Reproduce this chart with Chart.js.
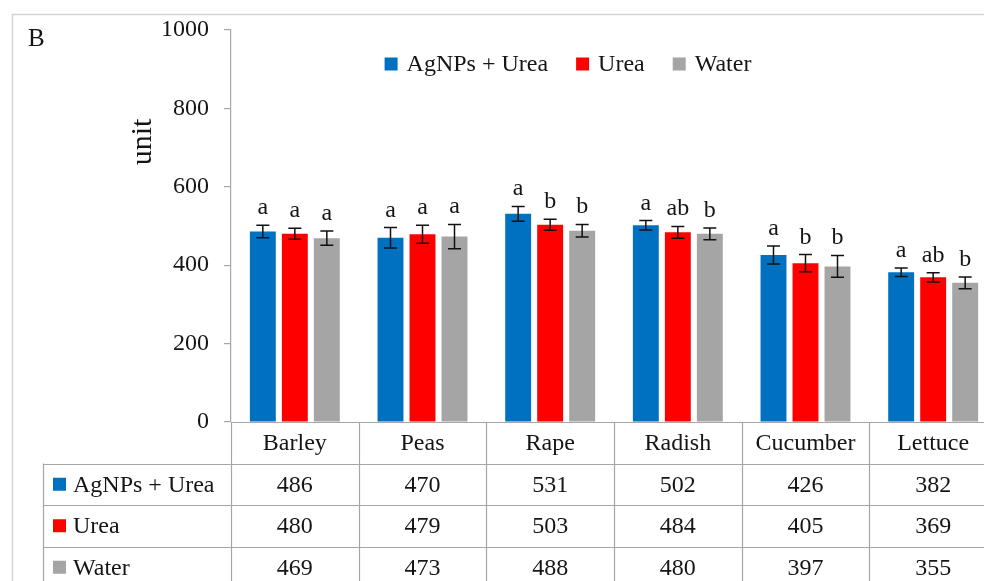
<!DOCTYPE html>
<html>
<head>
<meta charset="utf-8">
<script src="https://cdn.jsdelivr.net/npm/chart.js@4/dist/chart.umd.min.js"></script>
<style>
  html, body { margin: 0; padding: 0; background: #fff; overflow: hidden; }
  #wrap { position: absolute; left: 0; top: 0; width: 1020px; height: 600px; }
</style>
</head>
<body>
<div id="wrap"><canvas id="c" width="1020" height="600"></canvas></div>
<script>
// Crops and treatments
const categories = ['Barley', 'Peas', 'Rape', 'Radish', 'Cucumber', 'Lettuce'];
const seriesNames = ['AgNPs + Urea', 'Urea', 'Water'];

// Mean values per crop
const agnpsUrea = [486, 470, 531, 502, 426, 382];
const urea      = [480, 479, 503, 484, 405, 369];
const water     = [469, 473, 488, 480, 397, 355];

// Standard deviations (error bars)
const agnpsUreaErr = [16, 26, 19, 12, 23, 11];
const ureaErr      = [14, 23, 14, 15, 22, 12];
const waterErr     = [18, 31, 16, 15, 28, 15];

// Significance letters
const agnpsUreaSig = ['a', 'a', 'a', 'a', 'a', 'a'];
const ureaSig      = ['a', 'a', 'b', 'ab', 'b', 'ab'];
const waterSig     = ['a', 'a', 'b', 'b', 'b', 'b'];

// Y axis ticks
const yTicks = [0, 200, 400, 600, 800, 1000];

const colors = ['#0070C0', '#FF0000', '#A5A5A5'];
const values = [agnpsUrea, urea, water];
const errors = [agnpsUreaErr, ureaErr, waterErr];
const letters = [agnpsUreaSig, ureaSig, waterSig];

const FONT = '"Liberation Serif", "DejaVu Serif", serif';
const TEXT = '#151515';
const LINE = '#a6a6a6';
const SIZE = 24;

const extras = {
  id: 'extras',
  beforeDraw(chart) {
    const ctx = chart.ctx;
    ctx.save();
    // outer frame
    ctx.strokeStyle = '#d4d4d4';
    ctx.lineWidth = 1.5;
    ctx.strokeRect(12.5, 14.5, 2000, 2000);
    // panel letter
    ctx.fillStyle = TEXT;
    ctx.font = '25px ' + FONT;
    ctx.textAlign = 'left';
    ctx.textBaseline = 'alphabetic';
    ctx.fillText('B', 28, 46);
    // y axis title
    ctx.translate(143, 142);
    ctx.rotate(-Math.PI / 2);
    ctx.font = '30px ' + FONT;
    ctx.textAlign = 'center';
    ctx.textBaseline = 'middle';
    ctx.fillText('unit', 0, 0);
    ctx.restore();
  },
  afterDatasetsDraw(chart) {
    const ctx = chart.ctx;
    const ys = chart.scales.y;
    const xs = chart.scales.x;
    ctx.save();

    // error bars and letters
    values.forEach((vals, d) => {
      const meta = chart.getDatasetMeta(d);
      meta.data.forEach((bar, i) => {
        const top = ys.getPixelForValue(vals[i] + errors[d][i]);
        const bot = ys.getPixelForValue(vals[i] - errors[d][i]);
        const x = bar.x;
        ctx.strokeStyle = '#111';
        ctx.lineWidth = 1.5;
        ctx.beginPath();
        ctx.moveTo(x, top); ctx.lineTo(x, bot);
        ctx.moveTo(x - 6.5, top); ctx.lineTo(x + 6.5, top);
        ctx.moveTo(x - 6.5, bot); ctx.lineTo(x + 6.5, bot);
        ctx.stroke();
        ctx.fillStyle = TEXT;
        ctx.font = SIZE + 'px ' + FONT;
        ctx.textAlign = 'center';
        ctx.textBaseline = 'alphabetic';
        ctx.fillText(letters[d][i], x, top - 11);
      });
    });

    // data table under the axis
    const base = ys.getPixelForValue(0);
    const colW = (xs.right - xs.left) / categories.length;
    const rowH = 41.5;
    const tableLeft = 43;
    const far = chart.width;
    ctx.strokeStyle = LINE;
    ctx.lineWidth = 1.2;
    ctx.beginPath();
    ctx.moveTo(xs.left, base + 0.5); ctx.lineTo(far, base + 0.5);
    for (let r = 1; r <= 4; r++) {
      const y = Math.round(base + r * rowH) + 0.5;
      ctx.moveTo(tableLeft, y); ctx.lineTo(far, y);
    }
    ctx.moveTo(tableLeft + 0.5, base + rowH); ctx.lineTo(tableLeft + 0.5, chart.height);
    for (let i = 0; i <= categories.length; i++) {
      const x = Math.round(xs.left + i * colW) + 0.5;
      ctx.moveTo(x, base); ctx.lineTo(x, chart.height);
    }
    ctx.stroke();

    ctx.fillStyle = TEXT;
    ctx.font = SIZE + 'px ' + FONT;
    ctx.textBaseline = 'middle';
    ctx.textAlign = 'center';
    categories.forEach((c, i) => {
      const cx = xs.getPixelForValue(i);
      ctx.fillText(c, cx, base + rowH / 2 + 1);
      values.forEach((vals, d) => {
        ctx.fillText(String(vals[i]), cx, base + rowH * (d + 1.5) + 1);
      });
    });
    seriesNames.forEach((name, d) => {
      const cy = base + rowH * (d + 1.5);
      ctx.fillStyle = colors[d];
      ctx.fillRect(53, cy - 6.5, 13, 13);
      ctx.fillStyle = TEXT;
      ctx.textAlign = 'left';
      ctx.fillText(name, 73, cy + 1);
    });

    // legend along the top
    ctx.font = SIZE + 'px ' + FONT;
    const sq = 13, gapText = 9, gapItem = 28;
    const widths = seriesNames.map(n => sq + gapText + ctx.measureText(n).width);
    const total = widths.reduce((a, b) => a + b, 0) + gapItem * (widths.length - 1);
    let lx = 568 - total / 2;
    const ly = 64;
    seriesNames.forEach((name, d) => {
      ctx.fillStyle = colors[d];
      ctx.fillRect(lx, ly - 6.5, sq, sq);
      ctx.fillStyle = TEXT;
      ctx.textAlign = 'left';
      ctx.textBaseline = 'middle';
      ctx.fillText(name, lx + sq + gapText, ly + 1);
      lx += widths[d] + gapItem;
    });

    ctx.restore();
  }
};

new Chart(document.getElementById('c'), {
  type: 'bar',
  data: {
    labels: categories,
    datasets: seriesNames.map((name, d) => ({
      label: name,
      data: values[d],
      backgroundColor: colors[d],
      borderWidth: 0,
      categoryPercentage: 0.752,
      barPercentage: 0.81
    }))
  },
  options: {
    responsive: false,
    animation: false,
    devicePixelRatio: 1,
    layout: { padding: { left: 0, top: 30, right: 23, bottom: 178 } },
    plugins: { legend: { display: false }, tooltip: { enabled: false } },
    scales: {
      x: { display: false },
      y: {
        min: 0,
        max: 1000,
        afterFit(scale) { scale.width = 231; },
        afterBuildTicks(scale) { scale.ticks = yTicks.map(v => ({ value: v })); },
        ticks: {
          padding: 15,
          color: TEXT,
          font: { family: FONT, size: SIZE },
          callback: v => String(v)
        },
        grid: { drawOnChartArea: false, drawTicks: true, tickLength: 7, color: LINE, lineWidth: 1.2 },
        border: { display: true, color: LINE, width: 1.2 }
      }
    }
  },
  plugins: [extras]
});
</script>
</body>
</html>
